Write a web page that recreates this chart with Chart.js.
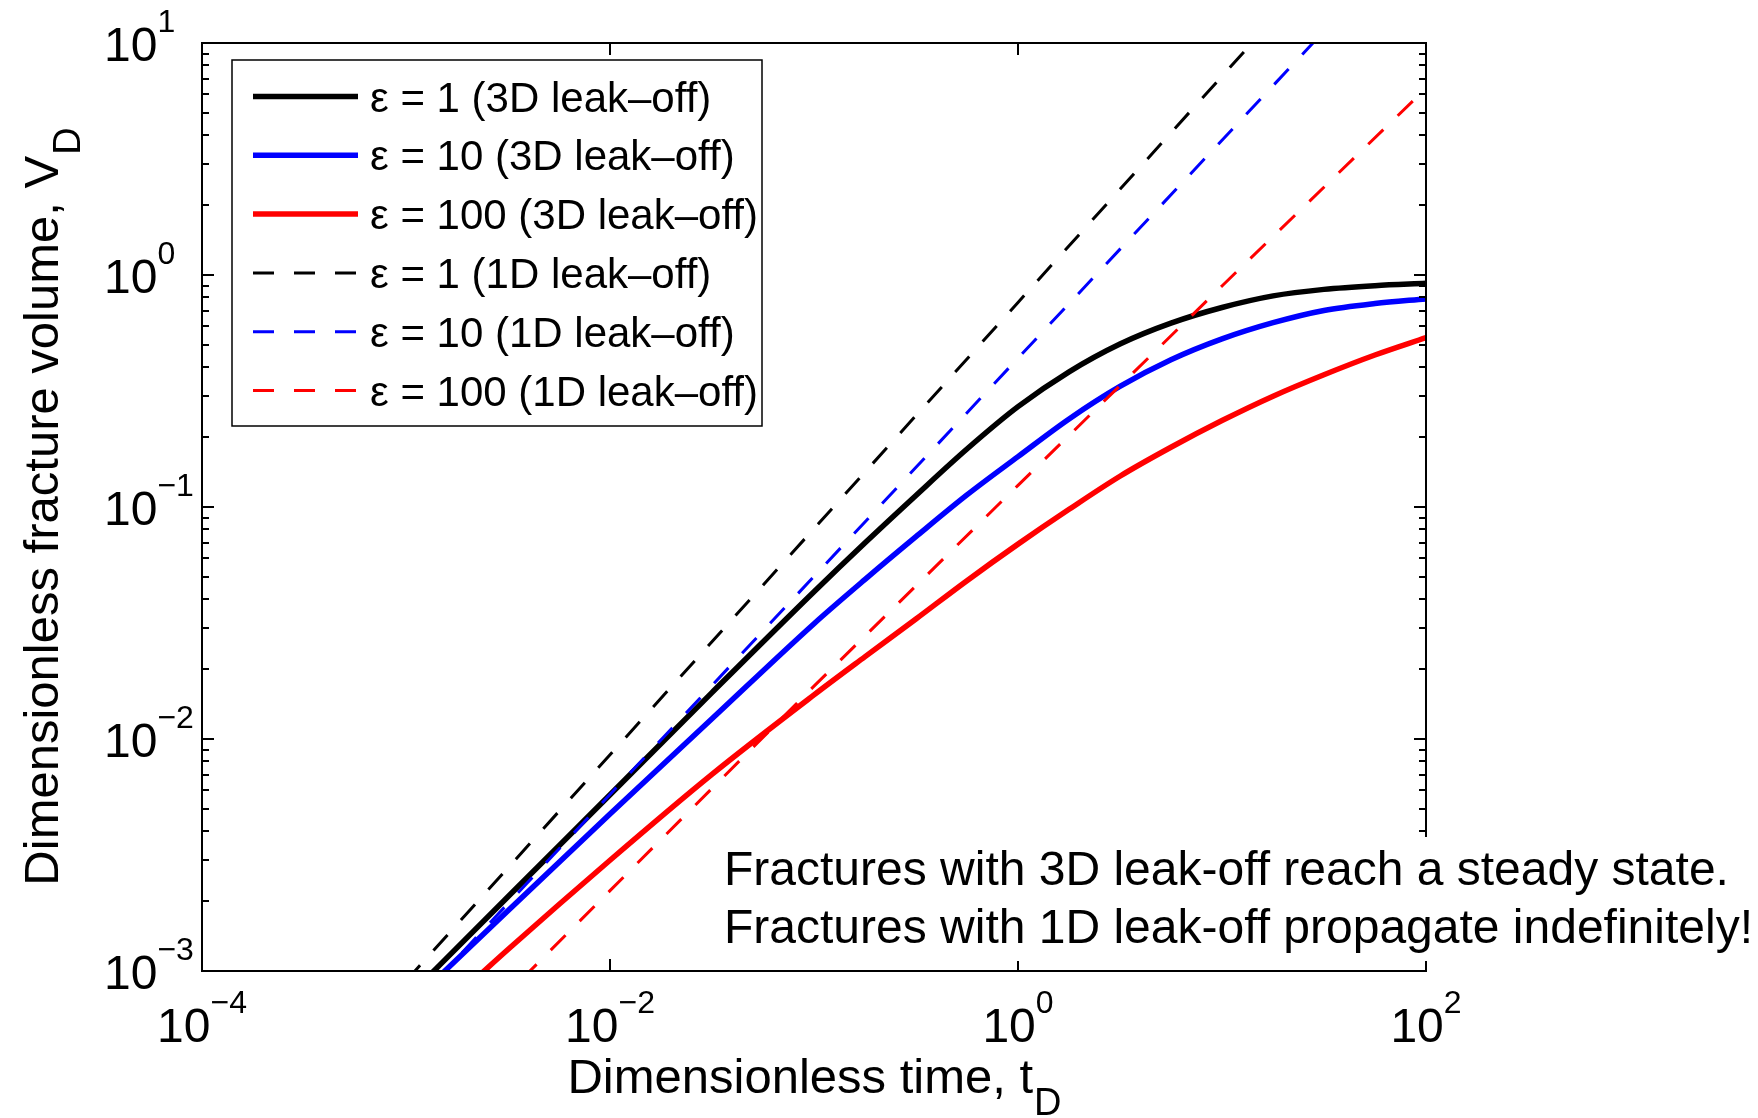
<!DOCTYPE html>
<html>
<head>
<meta charset="utf-8">
<title>Dimensionless fracture volume</title>
<script src="https://cdn.jsdelivr.net/npm/chart.js@4/dist/chart.umd.min.js"></script>
<style>
    html, body { margin: 0; padding: 0; background: #ffffff; }
    #wrap { width: 1758px; height: 1118px; }
</style>
</head>
<body>
<div id="wrap"><canvas id="vdChart" width="1758" height="1118"></canvas></div>
<script>
// dimensionless time for the 3D leak-off curves
const tSolid = [0.001, 0.00316, 0.01, 0.0316, 0.1, 0.178, 0.316, 0.562, 1, 1.78, 3.16, 5.62, 10, 17.8, 31.6, 56.2, 100];
// V_D, 3D leak-off
const vEps1_3D   = [7.586e-4, 2.089e-3, 5.754e-3, 0.01585, 0.04315, 0.07015, 0.1122, 0.1778, 0.2707, 0.3825, 0.5041, 0.6202, 0.7244, 0.8128, 0.867, 0.8995, 0.9204];
const vEps10_3D  = [6.918e-4, 1.820e-3, 4.753e-3, 0.01222, 0.03141, 0.04875, 0.07447, 0.1127, 0.1648, 0.2395, 0.3307, 0.4309, 0.5302, 0.6228, 0.7031, 0.7534, 0.7889];
const vEps100_3D = [4.926e-4, 1.237e-3, 3.002e-3, 0.00704, 0.01549, 0.02265, 0.03292, 0.04814, 0.06918, 0.09772, 0.1357, 0.1809, 0.2358, 0.3003, 0.3715, 0.4519, 0.537];

// dimensionless time for the 1D leak-off curves
const tDashed = [0.001, 0.01, 0.1, 1, 10, 100];
// V_D, 1D leak-off
const vEps1_1D   = [9.06e-4, 8.55e-3, 0.0807, 0.762, 7.19, 67.9];
const vEps10_1D  = [6.62e-4, 5.77e-3, 0.0502, 0.438, 3.81, 33.2];
const vEps100_1D = [2.91e-4, 2.22e-3, 0.0169, 0.124, 0.897, 6.38];

// axis decades that carry a label
const xTickExps = [-4, -2, 0, 2];
const yTickExps = [-3, -2, -1, 0, 1];

const seriesLabels = [
    'ε = 1 (3D leak–off)',
    'ε = 10 (3D leak–off)',
    'ε = 100 (3D leak–off)',
    'ε = 1 (1D leak–off)',
    'ε = 10 (1D leak–off)',
    'ε = 100 (1D leak–off)'
];

const noteLines = [
    'Fractures with 3D leak-off reach a steady state.',
    'Fractures with 1D leak-off propagate indefinitely!'
];

const FONT = '"Liberation Sans", Arial, Helvetica, sans-serif';

/**
 * 把 x/y 数组拼成点
 */
function toPoints(ts, vs) {
    return ts.map((t, i) => ({ x: t, y: vs[i] }));
}

function solidSet(label, ts, vs, color) {
    return {
        label: label,
        data: toPoints(ts, vs),
        borderColor: color,
        borderWidth: 5.5,
        cubicInterpolationMode: 'monotone',
        pointRadius: 0,
        order: 2
    };
}

function dashedSet(label, ts, vs, color) {
    return {
        label: label,
        data: toPoints(ts, vs),
        borderColor: color,
        borderWidth: 3,
        borderDash: [21, 20],
        tension: 0,
        pointRadius: 0,
        order: 1
    };
}

function expText(exp) {
    return exp < 0 ? '\u2212' + (-exp) : String(exp);
}

/**
 * 10^n 标签的宽度
 */
function powerWidths(ctx, exp) {
    ctx.font = '48px ' + FONT;
    const wBase = ctx.measureText('10').width;
    ctx.font = '32px ' + FONT;
    const wExp = ctx.measureText(expText(exp)).width;
    return { wBase, wExp };
}

/**
 * 画 10^n 形式的刻度标签
 */
function drawPower(ctx, exp, left, baseY) {
    const { wBase } = powerWidths(ctx, exp);
    ctx.fillStyle = '#000';
    ctx.textAlign = 'left';
    ctx.textBaseline = 'alphabetic';
    ctx.font = '48px ' + FONT;
    ctx.fillText('10', left, baseY);
    ctx.font = '32px ' + FONT;
    ctx.fillText(expText(exp), left + wBase, baseY - 29);
}

/**
 * 正文 + 下标 D
 */
function drawWithSub(ctx, main, sub, centerX, baseY) {
    ctx.font = '49px ' + FONT;
    const wMain = ctx.measureText(main).width;
    ctx.font = '38px ' + FONT;
    const wSub = ctx.measureText(sub).width;
    const left = centerX - (wMain + wSub) / 2;
    ctx.fillStyle = '#000';
    ctx.textAlign = 'left';
    ctx.textBaseline = 'alphabetic';
    ctx.font = '49px ' + FONT;
    ctx.fillText(main, left, baseY);
    ctx.font = '38px ' + FONT;
    ctx.fillText(sub, left + wMain + 1, baseY + 22);
}

const matlabAxes = {
    id: 'matlabAxes',
    afterDatasetsDraw(chart) {
        const ctx = chart.ctx;
        const area = chart.chartArea;
        const xs = chart.scales.x;
        const ys = chart.scales.y;

        ctx.save();
        ctx.strokeStyle = '#000';
        ctx.lineWidth = 2;
        ctx.setLineDash([]);

        // 坐标框
        ctx.strokeRect(area.left, area.top, area.right - area.left, area.bottom - area.top);

        // y 轴刻度 (主 + 次)
        ctx.beginPath();
        for (let e = -3; e <= 1; e++) {
            for (let m = 1; m <= 9; m++) {
                const v = m * Math.pow(10, e);
                if (v > 10.0001) break;
                const py = Math.round(ys.getPixelForValue(v));
                const len = m === 1 ? 12 : 7;
                ctx.moveTo(area.left, py);
                ctx.lineTo(area.left + len, py);
                ctx.moveTo(area.right, py);
                ctx.lineTo(area.right - len, py);
            }
        }
        // x 轴刻度
        xTickExps.forEach(e => {
            const px = Math.round(xs.getPixelForValue(Math.pow(10, e)));
            ctx.moveTo(px, area.bottom);
            ctx.lineTo(px, area.bottom - 12);
            ctx.moveTo(px, area.top);
            ctx.lineTo(px, area.top + 12);
        });
        ctx.stroke();

        // 刻度标签
        xTickExps.forEach(e => {
            const px = xs.getPixelForValue(Math.pow(10, e));
            const w = powerWidths(ctx, e);
            drawPower(ctx, e, px - (w.wBase + w.wExp) / 2, area.bottom + 71);
        });
        yTickExps.forEach(e => {
            const py = ys.getPixelForValue(Math.pow(10, e));
            drawPower(ctx, e, 104, py + 17.5);
        });

        // 轴标题
        drawWithSub(ctx, 'Dimensionless time, t', 'D', (area.left + area.right) / 2, 1093);
        ctx.save();
        ctx.translate(58, (area.top + area.bottom) / 2);
        ctx.rotate(-Math.PI / 2);
        drawWithSub(ctx, 'Dimensionless fracture volume, V', 'D', 0, 0);
        ctx.restore();

        // 图例
        const lg = { left: 232, top: 60, right: 762, bottom: 426 };
        ctx.fillStyle = '#fff';
        ctx.fillRect(lg.left, lg.top, lg.right - lg.left, lg.bottom - lg.top);
        ctx.lineWidth = 1.5;
        ctx.strokeStyle = '#000';
        ctx.strokeRect(lg.left, lg.top, lg.right - lg.left, lg.bottom - lg.top);
        chart.data.datasets.forEach((ds, i) => {
            const rowY = 96.5 + i * 58.8;
            ctx.beginPath();
            ctx.strokeStyle = ds.borderColor;
            ctx.lineWidth = ds.borderWidth;
            ctx.setLineDash(ds.borderDash || []);
            ctx.moveTo(253, rowY);
            ctx.lineTo(358, rowY);
            ctx.stroke();
            ctx.setLineDash([]);
            ctx.fillStyle = '#000';
            ctx.font = '42px ' + FONT;
            ctx.textAlign = 'left';
            ctx.textBaseline = 'alphabetic';
            ctx.fillText(ds.label, 370, rowY + 15);
        });

        // 文本注释 (白底, 盖住右边框)
        ctx.fillStyle = '#fff';
        ctx.fillRect(712, 837, 1758 - 712, 961 - 837);
        ctx.fillStyle = '#000';
        ctx.font = '48px ' + FONT;
        ctx.textAlign = 'left';
        ctx.textBaseline = 'alphabetic';
        ctx.fillText(noteLines[0], 724, 885);
        ctx.fillText(noteLines[1], 724, 943);

        ctx.restore();
    }
};

function initChart() {
    const ctx = document.getElementById('vdChart').getContext('2d');
    new Chart(ctx, {
        type: 'line',
        data: {
            datasets: [
                solidSet(seriesLabels[0], tSolid, vEps1_3D, '#000000'),
                solidSet(seriesLabels[1], tSolid, vEps10_3D, '#0000ff'),
                solidSet(seriesLabels[2], tSolid, vEps100_3D, '#ff0000'),
                dashedSet(seriesLabels[3], tDashed, vEps1_1D, '#000000'),
                dashedSet(seriesLabels[4], tDashed, vEps10_1D, '#0000ff'),
                dashedSet(seriesLabels[5], tDashed, vEps100_1D, '#ff0000')
            ]
        },
        options: {
            responsive: false,
            animation: false,
            devicePixelRatio: 1,
            layout: {
                padding: { left: 202, right: 332, top: 43, bottom: 147 }
            },
            scales: {
                x: { type: 'logarithmic', min: 1e-4, max: 100, display: false },
                y: { type: 'logarithmic', min: 1e-3, max: 10, display: false }
            },
            plugins: {
                legend: { display: false },
                tooltip: { enabled: false }
            }
        },
        plugins: [matlabAxes]
    });
}

if (document.readyState === 'loading') {
    document.addEventListener('DOMContentLoaded', initChart);
} else {
    initChart();
}
</script>
</body>
</html>
